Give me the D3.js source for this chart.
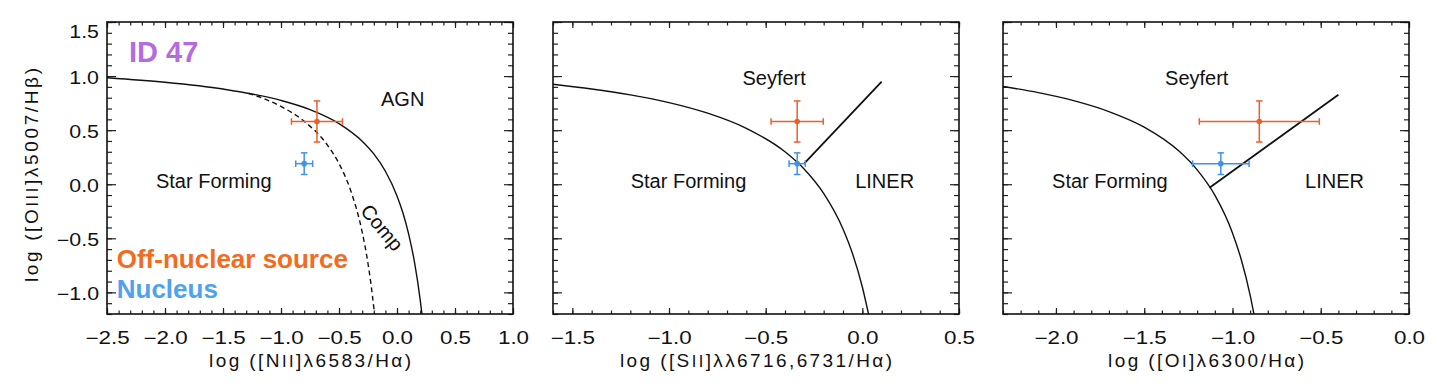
<!DOCTYPE html>
<html>
<head>
<meta charset="utf-8">
<script src="https://cdn.jsdelivr.net/npm/d3@7"></script>
<style>
  body { margin: 0; background: #fff; }
  text { font-family: "Liberation Sans", Arial, Helvetica, sans-serif; fill: #111; }
</style>
</head>
<body>
<svg id="chart" width="1437" height="392"></svg>
<script>
// axes
const yDomain = [-1.2, 1.5];
const yTicks = [-1.0, -0.5, 0.0, 0.5, 1.0, 1.5];
const niiDomain = [-2.5, 1.0];
const niiTicks = [-2.5, -2.0, -1.5, -1.0, -0.5, 0.0, 0.5, 1.0];
const siiDomain = [-1.6, 0.5];
const siiTicks = [-1.5, -1.0, -0.5, 0.0, 0.5];
const oiDomain = [-2.3, 0.0];
const oiTicks = [-2.0, -1.5, -1.0, -0.5, 0.0];

// measurements: [off-nuclear source, nucleus]
const sources = ['Off-nuclear source', 'Nucleus'];
const sourceColors = ['#ee5f28', '#3f93e8'];
const oiiiHb = [0.58, 0.19];
const oiiiHbErr = [0.19, 0.10];
const niiHa = [-0.69, -0.80];
const niiHaErr = [0.22, 0.073];
const siiHa = [-0.337, -0.337];
const siiHaErr = [0.135, 0.042];
const oiHa = [-0.848, -1.066];
const oiHaErr = [0.34, 0.16];

// demarcation lines
const kewleyNii = [[-2.5, 0.985], [-2.0, 0.943], [-1.5, 0.880], [-1.0, 0.775], [-0.75, 0.69],
  [-0.5, 0.561], [-0.3, 0.398], [-0.2, 0.280], [-0.1, 0.120], [0.0, -0.108], [0.05, -0.262],
  [0.1, -0.459], [0.15, -0.716], [0.2, -1.069], [0.215, -1.2]];
const kauffmannNii = [[-1.28, 0.841], [-1.0, 0.719], [-0.8, 0.582], [-0.6, 0.362], [-0.5, 0.191],
  [-0.4, -0.056], [-0.3, -0.443], [-0.25, -0.733], [-0.2, -1.14], [-0.194, -1.2]];
const kewleySii = [[-1.6, 0.925], [-1.4, 0.881], [-1.2, 0.826], [-1.0, 0.755], [-0.8, 0.657],
  [-0.6, 0.517], [-0.4, 0.30], [-0.3, 0.139], [-0.2, -0.085], [-0.1, -0.414], [-0.05, -0.646],
  [0.0, -0.95], [0.032, -1.2]];
const seyLinerSii = [[-0.30, 0.193], [0.10, 0.949]];
const kewleyOi = [[-2.3, 0.903], [-2.1, 0.847], [-1.9, 0.773], [-1.7, 0.672], [-1.5, 0.528],
  [-1.3, 0.302], [-1.2, 0.133], [-1.1, -0.101], [-1.0, -0.45], [-0.95, -0.698], [-0.9, -1.025],
  [-0.8785, -1.2]];
const seyLinerOi = [[-1.13, -0.033], [-0.40, 0.828]];

const svg = d3.select('#chart');
const W = 406, H = 292, TOP = 22;

const panels = [
  {
    left: 107, domain: niiDomain, ticks: niiTicks, xVals: niiHa, xErr: niiHaErr, yLabels: true,
    title: ['log  ([N', 'II', ']λ6583/Hα)'], titleLen: 202,
    lines: [{ pts: kewleyNii }, { pts: kauffmannNii, dash: '5,3.5' }],
    notes: [
      { t: 'AGN', x: -0.138, y: 0.723 },
      { t: 'Star Forming', x: -2.078, y: -0.035 },
      { t: 'Comp', x: -0.129, y: -0.40, rot: 50 },
      { t: 'ID 47', x: -2.31, y: 1.129, size: 29, bold: true, fill: '#b36ce0' },
      { t: sources[0], x: -2.416, y: -0.772, size: 26, bold: true, fill: '#f26b21' },
      { t: sources[1], x: -2.416, y: -1.055, size: 26, bold: true, fill: '#4ea2ee' }
    ]
  },
  {
    left: 553, domain: siiDomain, ticks: siiTicks, xVals: siiHa, xErr: siiHaErr, yLabels: false,
    title: ['log  ([S', 'II', ']λλ6716,6731/Hα)'], titleLen: 272,
    lines: [{ pts: kewleySii }, { pts: seyLinerSii, w: 1.8 }],
    notes: [
      { t: 'Seyfert', x: -0.620, y: 0.917 },
      { t: 'Star Forming', x: -1.198, y: -0.035 },
      { t: 'LINER', x: -0.037, y: -0.035 }
    ]
  },
  {
    left: 1003, domain: oiDomain, ticks: oiTicks, xVals: oiHa, xErr: oiHaErr, yLabels: false,
    title: ['log  ([O', 'I', ']λ6300/Hα)'], titleLen: 196,
    lines: [{ pts: kewleyOi }, { pts: seyLinerOi, w: 1.8 }],
    notes: [
      { t: 'Seyfert', x: -1.382, y: 0.917 },
      { t: 'Star Forming', x: -2.022, y: -0.035 },
      { t: 'LINER', x: -0.589, y: -0.035 }
    ]
  }
];

const fmt = d3.format('.1f');
const minorOf = (dom) => d3.range(Math.ceil(dom[0] * 10 - 1e-6), Math.floor(dom[1] * 10 + 1e-6) + 1).map((d) => d / 10);

panels.forEach((p, pi) => {
  const g = svg.append('g').attr('transform', `translate(${p.left},${TOP})`);
  const x = d3.scaleLinear().domain(p.domain).range([0, W]);
  const y = d3.scaleLinear().domain(yDomain).range([H, 0]);

  const clipId = `clip${pi}`;
  g.append('clipPath').attr('id', clipId).append('rect').attr('width', W).attr('height', H);

  // minor + major ticks on all four sides, pointing inward
  const tickAxis = (axis, tx, ty, vals, size, labels) => {
    const a = g.append('g')
      .attr('transform', `translate(${tx},${ty})`)
      .call(axis.tickValues(vals).tickSize(-size).tickSizeOuter(0).tickFormat(labels ? fmt : ''));
    a.select('.domain').remove();
    a.selectAll('line').attr('stroke', '#222').attr('stroke-width', 1.2);
    return a;
  };
  tickAxis(d3.axisBottom(x), 0, H, minorOf(p.domain), 3.5, false);
  tickAxis(d3.axisTop(x), 0, 0, minorOf(p.domain), 3.5, false);
  tickAxis(d3.axisLeft(y), 0, 0, minorOf(yDomain), 5, false);
  tickAxis(d3.axisRight(y), W, 0, minorOf(yDomain), 5, false);
  tickAxis(d3.axisTop(x), 0, 0, p.ticks, 6, false);
  tickAxis(d3.axisRight(y), W, 0, yTicks, 9, false);

  const bottom = tickAxis(d3.axisBottom(x).tickPadding(18), 0, H, p.ticks, 6, true);
  bottom.selectAll('text')
    .attr('font-size', 17.5).attr('fill', '#111')
    .attr('transform', 'scale(1.28,1)');

  const left = tickAxis(d3.axisLeft(y).tickPadding(8), 0, 0, yTicks, 9, p.yLabels);
  if (p.yLabels) {
    left.selectAll('text')
      .attr('font-size', 17.5).attr('fill', '#111')
      .attr('x', -8 / 1.22)
      .attr('dy', (d) => (d === yDomain[1] ? '0.86em' : '0.4em'))
      .attr('transform', 'scale(1.22,1)');
  }

  // frame
  g.append('rect').attr('width', W).attr('height', H)
    .attr('fill', 'none').attr('stroke', '#111').attr('stroke-width', 1.6);

  // demarcation curves
  const line = d3.line().x((d) => x(d[0])).y((d) => y(d[1])).curve(d3.curveMonotoneX);
  p.lines.forEach((l) => {
    g.append('path')
      .attr('clip-path', `url(#${clipId})`)
      .attr('d', line(l.pts))
      .attr('fill', 'none')
      .attr('stroke', '#111')
      .attr('stroke-width', l.w || 1.4)
      .attr('stroke-dasharray', l.dash || null);
  });

  // region labels
  p.notes.forEach((n) => {
    const t = g.append('text')
      .attr('font-size', n.size || 20)
      .attr('font-weight', n.bold ? 'bold' : null)
      .style('fill', n.fill || '#111')
      .text(n.t);
    if (n.rot) {
      t.attr('text-anchor', 'middle').attr('dominant-baseline', 'central')
        .attr('transform', `translate(${x(n.x)},${y(n.y)}) rotate(${n.rot})`);
    } else {
      t.attr('x', x(n.x)).attr('y', y(n.y));
    }
  });

  // error bars + points
  sources.forEach((s, i) => {
    const c = sourceColors[i];
    const eb = g.append('g').attr('stroke', c).attr('stroke-width', 1.5).attr('fill', 'none');
    const cx = x(p.xVals[i]), cy = y(oiiiHb[i]);
    const x0 = x(p.xVals[i] - p.xErr[i]), x1 = x(p.xVals[i] + p.xErr[i]);
    const y0 = y(oiiiHb[i] - oiiiHbErr[i]), y1 = y(oiiiHb[i] + oiiiHbErr[i]);
    const cap = 3.3;
    eb.append('line').attr('x1', x0).attr('x2', x1).attr('y1', cy).attr('y2', cy);
    eb.append('line').attr('x1', cx).attr('x2', cx).attr('y1', y0).attr('y2', y1);
    eb.append('line').attr('x1', x0).attr('x2', x0).attr('y1', cy - cap).attr('y2', cy + cap);
    eb.append('line').attr('x1', x1).attr('x2', x1).attr('y1', cy - cap).attr('y2', cy + cap);
    eb.append('line').attr('x1', cx - cap).attr('x2', cx + cap).attr('y1', y0).attr('y2', y0);
    eb.append('line').attr('x1', cx - cap).attr('x2', cx + cap).attr('y1', y1).attr('y2', y1);
    g.append('circle').attr('cx', cx).attr('cy', cy).attr('r', 2.8).attr('fill', c);
  });

  // x title
  const xt = g.append('text')
    .attr('x', W / 2).attr('y', H + 53)
    .attr('text-anchor', 'middle')
    .attr('font-size', 19)
    .attr('textLength', p.titleLen)
    .attr('lengthAdjust', 'spacing');
  xt.append('tspan').text(p.title[0]);
  xt.append('tspan').attr('font-size', 16.5).text(p.title[1]);
  xt.append('tspan').text(p.title[2]);
});

// y title
const yt = svg.append('text')
  .attr('transform', 'translate(38,175) rotate(-90)')
  .attr('text-anchor', 'middle')
  .attr('font-size', 19)
  .attr('textLength', 214)
  .attr('lengthAdjust', 'spacing');
yt.append('tspan').text('log  ([O');
yt.append('tspan').attr('font-size', 16.5).text('III');
yt.append('tspan').text(']λ5007/Hβ)');
</script>
</body>
</html>
